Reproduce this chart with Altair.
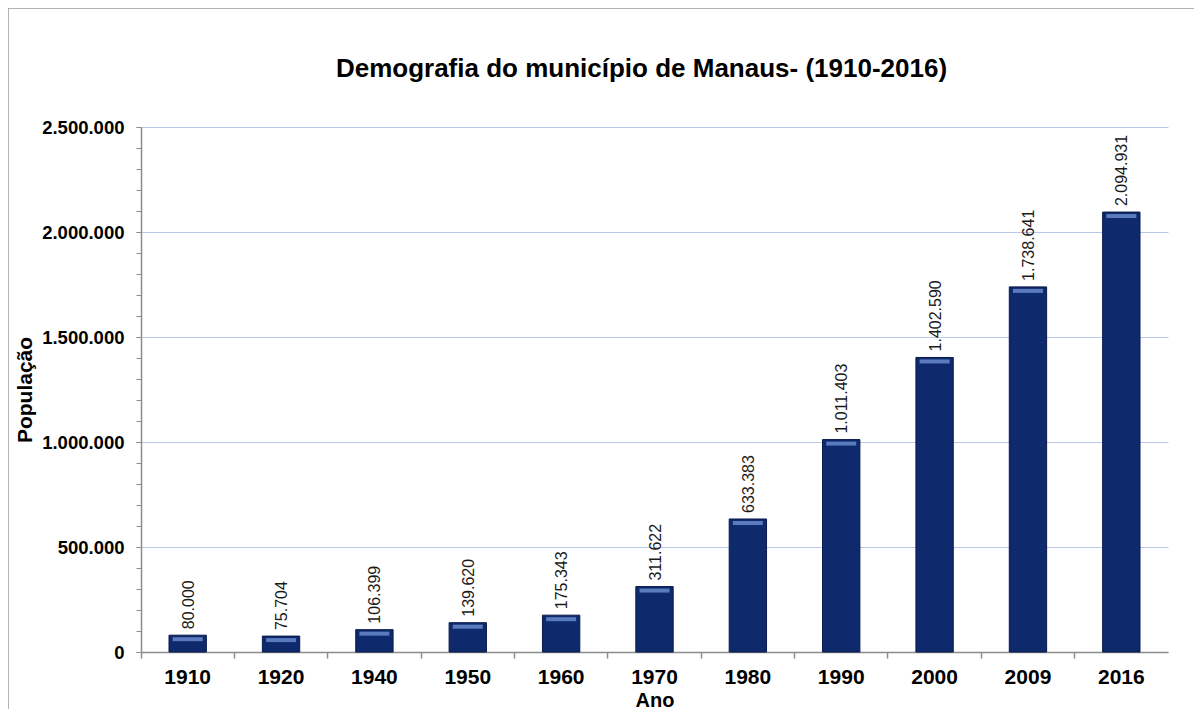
import altair as alt
import pandas as pd

years = ["1910", "1920", "1940", "1950", "1960", "1970", "1980", "1990", "2000", "2009", "2016"]
population = [80000, 75704, 106399, 139620, 175343, 311622, 633383, 1011403, 1402590, 1738641, 2094931]
labels = [f"{v:,}".replace(",", ".") for v in population]
y_major = [0, 500000, 1000000, 1500000, 2000000, 2500000]
y_minor = list(range(0, 2500001, 100000))

df = pd.DataFrame({"Ano": years, "Pop": population, "rotulo": labels})

FONT = "Liberation Sans"
GREY = "#8c8c8c"
NUMFMT = "replace(replace(format(datum.value, ','), ',', '.'), ',', '.')"

xscale = alt.Scale(paddingInner=0, paddingOuter=0)
yscale = alt.Scale(domain=[0, 2500000])

base = alt.Chart(df)

bars = base.mark_bar(
    width=alt.RelativeBandSize(0.4), color="#0f2a6c", stroke="#08194a", strokeWidth=1
).encode(
    x=alt.X("Ano:N", sort=years, scale=xscale,
            axis=alt.Axis(orient="bottom", title="Ano", labelAngle=0, ticks=False, domain=True,
                          domainColor=GREY, domainWidth=1.5, grid=False,
                          labelFont=FONT, labelFontSize=21, labelFontWeight="bold",
                          labelColor="#000000", labelPadding=14,
                          titleFont=FONT, titleFontSize=20, titleFontWeight="bold",
                          titleColor="#000000", titlePadding=3)),
    y=alt.Y("Pop:Q", scale=yscale,
            axis=alt.Axis(orient="left", title="População", values=y_major, labelExpr=NUMFMT,
                          grid=True, gridColor="#b7c8e8", gridWidth=1,
                          domain=True, domainColor=GREY, domainWidth=1.5,
                          ticks=True, tickColor=GREY, tickSize=5,
                          labelFont=FONT, labelFontSize=18.5, labelFontWeight="bold",
                          labelColor="#000000", labelPadding=12,
                          titleFont=FONT, titleFontSize=21, titleFontWeight="bold",
                          titleColor="#000000", titlePadding=6)),
)

highlight = base.mark_tick(
    color="#6384c8", thickness=4, size=30, yOffset=4, opacity=0.9
).encode(
    x=alt.X("Ano:N", sort=years, scale=xscale,
            axis=alt.Axis(orient="bottom", bandPosition=0, labels=False, domain=False, ticks=True,
                          tickColor=GREY, tickSize=6, tickWidth=1.5, title=None, grid=False)),
    y=alt.Y("Pop:Q", scale=yscale,
            axis=alt.Axis(orient="left", values=y_minor, labels=False, domain=False, grid=False,
                          ticks=True, tickColor=GREY, tickSize=5, title=None)),
)

text = base.mark_text(
    angle=270, align="left", baseline="middle", dx=6, dy=1,
    font=FONT, fontSize=16, color="#1a1a1a"
).encode(
    x=alt.X("Ano:N", sort=years, scale=xscale, axis=None),
    y=alt.Y("Pop:Q", scale=yscale, axis=None),
    text="rotulo:N",
)

frame_df = pd.DataFrame({"k": [0]})
frame_left = alt.Chart(frame_df).mark_rule(color="#9a9a9a", strokeWidth=1.5).encode(
    x=alt.value(-133), y=alt.value(-119), y2=alt.value(590)
)
frame_top = alt.Chart(frame_df).mark_rule(color="#9a9a9a", strokeWidth=1.5).encode(
    x=alt.value(-133), x2=alt.value(1061), y=alt.value(-119)
)

chart = alt.layer(bars, highlight, text, frame_left, frame_top).properties(
    width=1027,
    height=525,
    autosize=alt.AutoSizeParams(type="none"),
    padding={"left": 133, "top": 119, "right": 26, "bottom": 57},
    title=alt.Title("Demografia do município de Manaus- (1910-2016)",
                    font=FONT, fontSize=26, fontWeight="bold", color="#000000",
                    offset=-75, anchor="middle", dx=-13),
).resolve_scale(x="shared", y="shared").resolve_axis(
    x="independent", y="independent"
).configure_view(stroke=None)

chart.save("out.html", embed_options={"renderer": "svg", "actions": False})
